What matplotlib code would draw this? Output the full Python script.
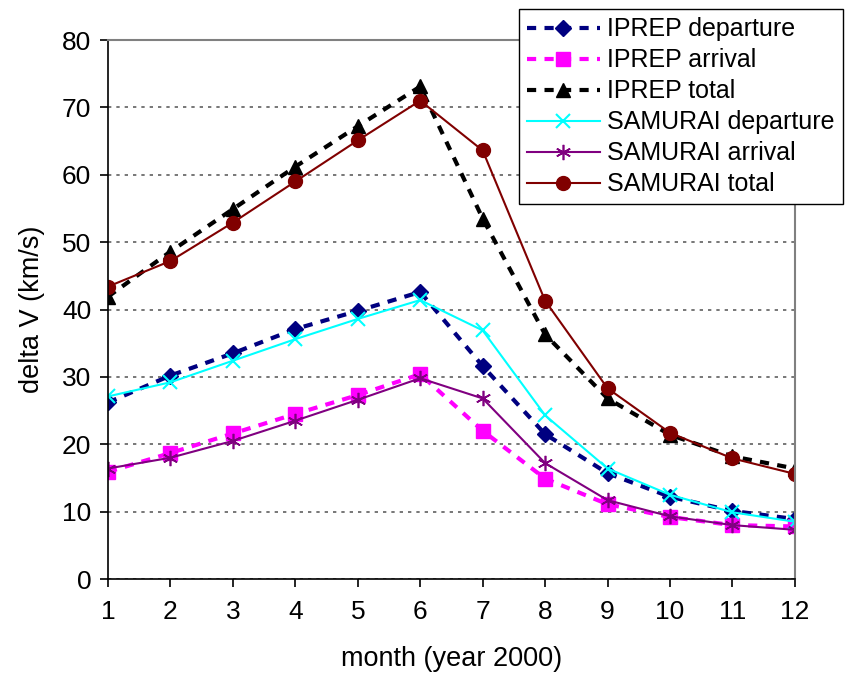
import numpy as np
import matplotlib
matplotlib.use("Agg")
import matplotlib.pyplot as plt

plt.rcParams['font.family'] = ['Liberation Sans', 'DejaVu Sans']

months = list(range(1, 13))

iprep_departure = [26.2, 30.2, 33.5, 37.1, 39.8, 42.6, 31.6, 21.5, 15.7, 12.2, 10.1, 8.9]
iprep_arrival = [15.9, 18.7, 21.6, 24.5, 27.3, 30.4, 22.0, 14.9, 11.1, 9.2, 8.0, 7.8]
iprep_total = [41.9, 48.6, 54.9, 61.2, 67.2, 73.1, 53.5, 36.3, 26.8, 21.4, 18.2, 16.4]
samurai_departure = [27.1, 29.2, 32.4, 35.6, 38.6, 41.4, 36.9, 24.3, 16.4, 12.5, 9.9, 8.5]
samurai_arrival = [16.4, 18.0, 20.5, 23.5, 26.6, 29.8, 26.8, 17.2, 11.7, 9.3, 8.0, 7.3]
samurai_total = [43.4, 47.2, 52.9, 59.0, 65.1, 71.0, 63.6, 41.3, 28.3, 21.7, 17.9, 15.6]

fig = plt.figure(figsize=(8.47, 6.78), dpi=100)
ax = fig.add_axes([0.1275, 0.146, 0.811, 0.795])

dash = (2.2, 2.0)
ax.plot(months, iprep_departure, color='#000080', lw=3, dashes=dash,
        marker='D', ms=8.5, label='IPREP departure')
ax.plot(months, iprep_arrival, color='#FF00FF', lw=3, dashes=dash,
        marker='s', ms=9.5, label='IPREP arrival')
ax.plot(months, iprep_total, color='black', lw=3, dashes=dash,
        marker='^', ms=9.5, label='IPREP total')
ax.plot(months, samurai_departure, color='#00FFFF', lw=1.5,
        marker='x', ms=10, mew=1.5, label='SAMURAI departure')
ax.plot(months, samurai_arrival, color='#800080', lw=1.5,
        marker=(6, 2, 0), ms=11, mew=1.2, label='SAMURAI arrival')
ax.plot(months, samurai_total, color='#800000', lw=1.5,
        marker='o', ms=10, label='SAMURAI total')

ax.set_xlim(1, 12)
ax.set_ylim(0, 80)
ax.set_xticks(months)
ax.set_yticks(range(0, 81, 10))
ax.tick_params(labelsize=19, direction='out', length=6, width=1.2)
ax.tick_params(axis='x', pad=9)
ax.tick_params(axis='y', pad=6)

ax.yaxis.grid(True, linestyle=(0, (2, 3)), color='#606060', lw=1.2)
ax.set_axisbelow(True)

for side in ('top', 'right'):
    ax.spines[side].set_color('#808080')
    ax.spines[side].set_linewidth(1.5)
for side in ('left', 'bottom'):
    ax.spines[side].set_color('black')
    ax.spines[side].set_linewidth(1.2)

ax.set_xlabel('month (year 2000)', fontsize=19.5, labelpad=16)
ax.set_ylabel('delta V (km/s)', fontsize=19.5, labelpad=12)

leg = fig.legend(loc='upper left', bbox_to_anchor=(0.613, 0.986), fontsize=18,
                 frameon=True, fancybox=False, handlelength=2.9,
                 borderpad=0.32, labelspacing=0.28, handletextpad=0.3,
                 borderaxespad=0)
leg.get_frame().set_edgecolor('black')
leg.get_frame().set_linewidth(1.0)
leg.get_frame().set_alpha(1)

fig.savefig('out.png', dpi=100)
